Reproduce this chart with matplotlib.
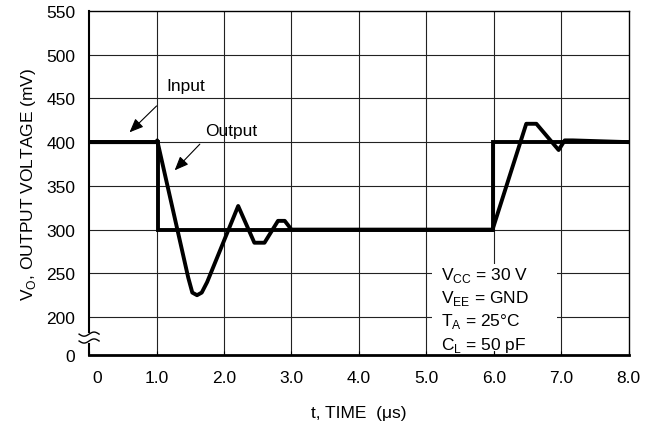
import numpy as np
import matplotlib.pyplot as plt
from matplotlib.patches import Rectangle
from matplotlib.transforms import ScaledTranslation

plt.rcParams['font.family'] = ['Liberation Sans', 'DejaVu Sans']

# waveforms (t in us, V in mV)
input_t = [0, 1.02, 1.02, 5.98, 5.98, 8.0]
input_v = [400, 400, 300, 300, 400, 400]
output_t = [0, 1.0, 1.01, 1.47, 1.53, 1.6, 1.67, 1.75, 2.21, 2.45, 2.6, 2.8, 2.9, 3.0,
            5.98, 6.48, 6.63, 6.96, 7.05, 7.17, 8.0]
output_v = [400, 400, 402, 245, 228, 225, 228, 240, 327, 285, 285, 310, 310, 300,
            300, 421, 421, 391, 402, 402, 400]

x_ticks = [0, 1, 2, 3, 4, 5, 6, 7, 8]
x_labels = ['0', '1.0', '2.0', '3.0', '4.0', '5.0', '6.0', '7.0', '8.0']
y_grid = [200, 250, 300, 350, 400, 450, 500]
y_ticks = [156.5, 200, 250, 300, 350, 400, 450, 500, 550]   # 0 sits below the axis break
y_labels = ['0', '200', '250', '300', '350', '400', '450', '500', '550']
conditions = ['V$_{\\mathregular{CC}}$ = 30 V', 'V$_{\\mathregular{EE}}$ = GND',
              'T$_{\\mathregular{A}}$ = 25°C', 'C$_{\\mathregular{L}}$ = 50 pF']

FS = 12.5

fig = plt.figure(figsize=(6.55, 4.27), dpi=100)
ax = fig.add_axes([0.136, 0.166, 0.824, 0.806])

for x in x_ticks[1:-1]:
    ax.axvline(x, color='#222222', lw=0.8, zorder=1)
for y in y_grid:
    ax.axhline(y, color='#222222', lw=0.8, zorder=1)

# white area behind the conditions text
ax.add_patch(Rectangle((5.09, 161), 1.84, 100, facecolor='white', edgecolor='none', zorder=1.5))

ax.plot(input_t, input_v, color='black', lw=2.8, zorder=3, solid_joinstyle='miter')
ax.plot(output_t, output_v, color='black', lw=2.8, zorder=3)

ax.set_xlim(0, 8)
ax.set_ylim(156.5, 550)
ax.set_xticks(x_ticks)
ax.set_xticklabels(x_labels)
ax.set_yticks(y_ticks)
ax.set_yticklabels(y_labels)
ax.tick_params(axis='x', direction='in', length=3, width=0.8, pad=11, labelsize=FS)
ax.tick_params(axis='y', length=0, pad=10, labelsize=FS)
lab0 = ax.get_xticklabels()[0]
lab0.set_transform(lab0.get_transform() + ScaledTranslation(8 / 100, 0, fig.dpi_scale_trans))

ax.spines['left'].set_visible(False)
ax.spines['bottom'].set_linewidth(2)
ax.spines['top'].set_linewidth(1)
ax.spines['right'].set_linewidth(1)

# left axis with break marks
ax.plot([0, 0], [0.067, 1], transform=ax.transAxes, color='black', lw=1.5, clip_on=False, zorder=4)
ax.plot([0, 0], [0, 0.032], transform=ax.transAxes, color='black', lw=1.5, clip_on=False, zorder=4)
s = np.linspace(-1, 1, 30)
for yc in [0.061, 0.041]:
    ax.plot(s * 0.0185, yc + 0.006 * np.sin(s * np.pi), transform=ax.transAxes,
            color='black', lw=1, clip_on=False, zorder=4)

arrow = dict(arrowstyle='-|>,head_length=0.6,head_width=0.25', color='black', lw=0.8, mutation_scale=14)
ax.annotate('', xy=(0.57, 409), xytext=(1.03, 443.6), arrowprops=arrow)
ax.text(1.44, 465, 'Input', fontsize=FS, ha='center', va='center')
ax.annotate('', xy=(1.24, 365.5), xytext=(1.67, 400), arrowprops=arrow)
ax.text(2.11, 413, 'Output', fontsize=FS, ha='center', va='center')

for i, line in enumerate(conditions):
    ax.text(5.22, 249 - 26.7 * i, line, fontsize=FS, ha='left', va='center', zorder=4)

ax.set_xlabel('t, TIME  (μs)', fontsize=FS, labelpad=14)
ax.set_ylabel('V$_{\\mathregular{O}}$, OUTPUT VOLTAGE (mV)', fontsize=FS, labelpad=6)

fig.savefig('out.png', dpi=100)
